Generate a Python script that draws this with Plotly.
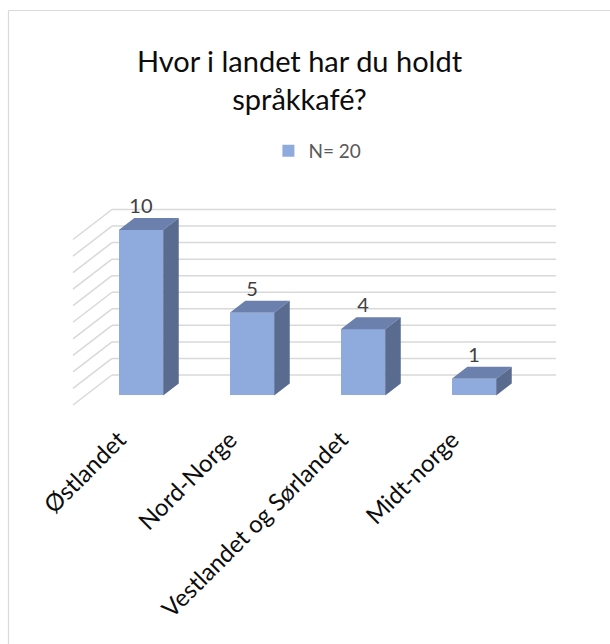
import plotly.graph_objects as go

categories = ["Østlandet", "Nord-Norge", "Vestlandet og Sørlandet", "Midt-norge"]
values = [10, 5, 4, 1]
series_name = "N= 20"
grid_values = list(range(0, 11))
title_text = "Hvor i landet har du holdt<br>språkkafé?"

# pseudo-3D projection (in axis units)
DX = 0.351   # horizontal shift of full depth, in category units
DY = 1.813   # vertical shift of full depth, in value units
D0, D1 = 0.32, 0.72  # bar front/back depth
W = 0.4

FRONT = "#8faadc"
TOP = "#6b80ad"
SIDE = "#5a6b90"
GRID = "#d9d9d9"
FONT = "Lato"

n = len(categories)
xs = list(range(n))
centers = [i + D0 * DX for i in xs]
base = D0 * DY
ddx = (D1 - D0) * DX
ddy = (D1 - D0) * DY

fig = go.Figure()
fig.add_trace(go.Bar(
    x=centers, y=values, base=[base] * n, width=W,
    marker=dict(color=FRONT, line=dict(width=0)),
    name=series_name, showlegend=True, hoverinfo="skip",
))

tx, ty, sx, sy = [], [], [], []
for c, v in zip(centers, values):
    x0, x1 = c - W / 2, c + W / 2
    yt = v + base
    tx += [x0, x1, x1 + ddx, x0 + ddx, x0, None]
    ty += [yt, yt, yt + ddy, yt + ddy, yt, None]
    sx += [x1, x1 + ddx, x1 + ddx, x1, x1, None]
    sy += [base, base + ddy, yt + ddy, yt, base, None]

fig.add_trace(go.Scatter(x=tx, y=ty, fill="toself", fillcolor=TOP, mode="lines",
                         line=dict(width=0, color=TOP), showlegend=False, hoverinfo="skip"))
fig.add_trace(go.Scatter(x=sx, y=sy, fill="toself", fillcolor=SIDE, mode="lines",
                         line=dict(width=0, color=SIDE), showlegend=False, hoverinfo="skip"))

fig.add_trace(go.Scatter(
    x=centers, y=[v + D1 * DY for v in values], mode="text",
    text=[str(v) for v in values], textposition="top center",
    textfont=dict(family=FONT, size=20, color="#404040"),
    showlegend=False, hoverinfo="skip", cliponaxis=False,
))

shapes = []
xl, xr = -0.5, n - 0.5
for g in grid_values:
    shapes.append(dict(type="line", xref="x", yref="y", layer="below",
                       x0=xl + DX, x1=xr + DX, y0=g + DY, y1=g + DY,
                       line=dict(color=GRID, width=1.5)))
    shapes.append(dict(type="line", xref="x", yref="y", layer="below",
                       x0=xl, x1=xl + DX, y0=g, y1=g + DY,
                       line=dict(color=GRID, width=1.5)))

# chart border (left and top edges visible in the window)
L, R, T, B = 60, 30, 180, 234
PW, PH = 610 - L - R, 644 - T - B
def px2paper_x(p):
    return (p - L) / PW
def px2paper_y(p):
    return (644 - B - p) / PH
shapes.append(dict(type="line", xref="paper", yref="paper", layer="below",
                   x0=px2paper_x(8.5), x1=px2paper_x(610), y0=px2paper_y(10.5), y1=px2paper_y(10.5),
                   line=dict(color="#d9d9d9", width=1.2)))
shapes.append(dict(type="line", xref="paper", yref="paper", layer="below",
                   x0=px2paper_x(8.5), x1=px2paper_x(8.5), y0=px2paper_y(10.5), y1=px2paper_y(644),
                   line=dict(color="#d9d9d9", width=1.2)))

fig.update_layout(
    width=610, height=644,
    margin=dict(l=L, r=R, t=T, b=B),
    paper_bgcolor="white", plot_bgcolor="white",
    font=dict(family=FONT, color="#000000"),
    title=dict(text=title_text, x=299.5 / 610, xanchor="center", xref="container",
               y=1 - 72 / 644, yanchor="top", yref="container",
               font=dict(family=FONT, size=29, color="#0d0d0d")),
    legend=dict(orientation="h", x=0.495, xanchor="center", y=px2paper_y(151), yanchor="middle",
                font=dict(family=FONT, size=19, color="#595959")),
    shapes=shapes,
    bargap=0,
    xaxis=dict(range=[(60 - 128.5) / 111, (580 - 128.5) / 111], showgrid=False, zeroline=False,
               showline=False, ticks="", tickmode="array", tickvals=[i - 0.085 for i in xs],
               ticktext=categories, tickangle=-45, ticklabelstandoff=10,
               tickfont=dict(family=FONT, size=24, color="#0d0d0d")),
    yaxis=dict(range=[(405 - 410) / 16.55, (405 - 180) / 16.55], showgrid=False, zeroline=False,
               showline=False, showticklabels=False, ticks=""),
)

fig.write_html("out.html")
